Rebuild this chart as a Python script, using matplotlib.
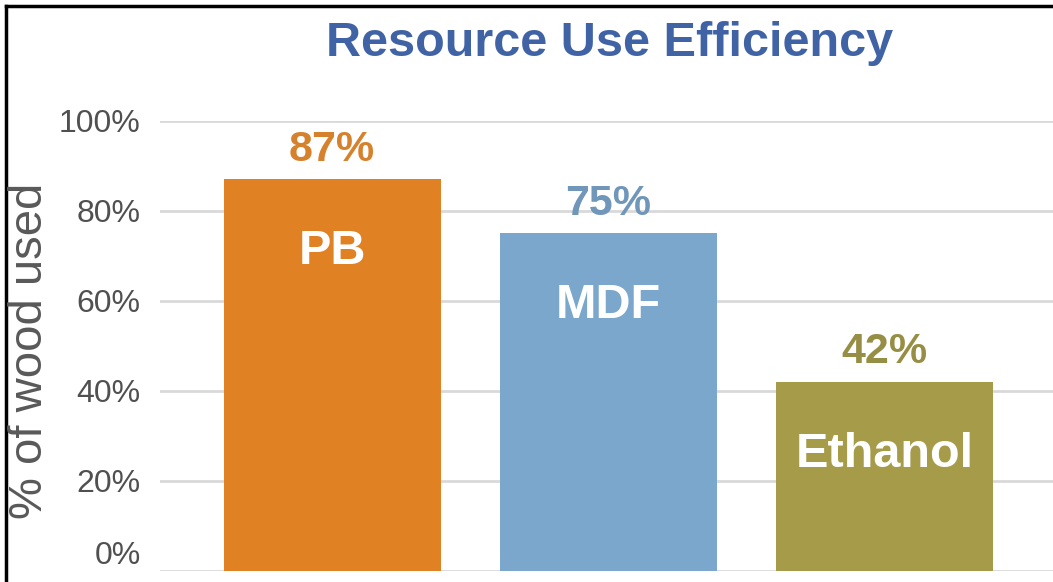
import matplotlib
matplotlib.use("Agg")
import matplotlib.pyplot as plt
from matplotlib.lines import Line2D

# data
categories = ["PB", "MDF", "Ethanol"]
values = [87, 75, 42]
bar_colors = ["#E08224", "#7BA7CD", "#A59B48"]
value_colors = ["#D6812C", "#7096B9", "#978E45"]
yticks = [0, 20, 40, 60, 80, 100]
ytick_labels = ["0%", "20%", "40%", "60%", "80%", "100%"]

NARROW = ["Liberation Sans Narrow", "Liberation Sans", "DejaVu Sans"]
REGULAR = ["Liberation Sans", "DejaVu Sans"]

fig = plt.figure(figsize=(10.53, 5.82), dpi=100)
ax = fig.add_axes([160 / 1053, 11 / 582, 1 - 160 / 1053, 450 / 582])

x = list(range(len(categories)))
ax.bar(x, values, width=0.786, color=bar_colors, zorder=2)

for xi, v, cat, vc in zip(x, values, categories, value_colors):
    ax.annotate(f"{v}%", (xi, v), xytext=(0, 7), textcoords="offset points",
                ha="center", va="bottom", fontsize=31, fontweight="bold",
                color=vc, family=NARROW)
    ax.annotate(cat, (xi, v), xytext=(0, -52), textcoords="offset points",
                ha="center", va="center", fontsize=35, fontweight="bold",
                color="white", family=NARROW)

ax.set_xlim(-0.623, 2.61)
ax.set_ylim(0, 100)
ax.set_yticks(yticks)
ax.set_yticklabels(ytick_labels, family=NARROW, fontsize=23, color="#505050")
ax.get_yticklabels()[0].set_verticalalignment("bottom")
ax.set_xticks([])
ax.tick_params(axis="y", length=0, pad=14)
ax.grid(axis="y", color="#D9D9D9", linewidth=2, zorder=0)
ax.set_axisbelow(True)
for s in ax.spines.values():
    s.set_visible(False)

fig.text(30 / 1053, 1 - 351 / 582, "% of wood used", rotation=90,
         ha="center", va="center", fontsize=34, color="#595959", family=REGULAR)

fig.text(610 / 1053, 1 - 43 / 582, "Resource Use Efficiency", ha="center",
         va="center", fontsize=35, fontweight="bold", color="#4063A6",
         family=NARROW)

# black frame on top and left edges
fig.add_artist(Line2D([6 / 1053, 6 / 1053], [0, 1 - 6 / 582], color="black",
                      linewidth=2.5, transform=fig.transFigure))
fig.add_artist(Line2D([6 / 1053, 1], [1 - 6 / 582, 1 - 6 / 582], color="black",
                      linewidth=2.5, transform=fig.transFigure))

fig.savefig("out.png", dpi=100)
